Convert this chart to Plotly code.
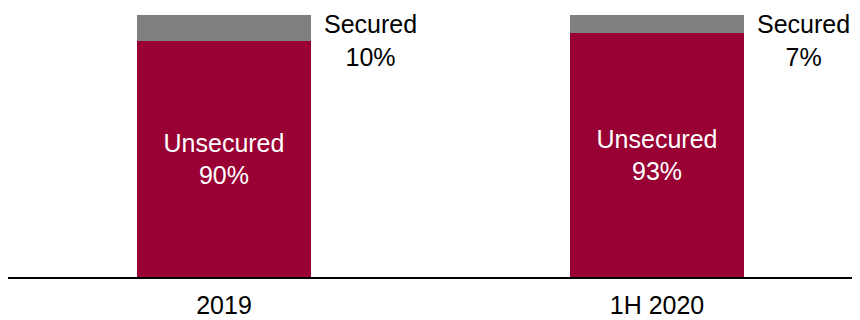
import plotly.graph_objects as go

categories = ["2019", "1H 2020"]
unsecured = [90, 93]
secured = [10, 7]

RED = "#990033"
GRAY = "#808080"
FONT = "Liberation Sans, Arial, sans-serif"

xpos = list(range(len(categories)))

fig = go.Figure()
fig.add_trace(go.Bar(
    x=xpos, y=unsecured, width=0.4,
    marker=dict(color=RED, line=dict(width=0)),
    text=[f"Unsecured<br>{v}%" for v in unsecured],
    textposition="inside", insidetextanchor="middle",
    insidetextfont=dict(color="white", size=25, family=FONT),
    textangle=0, hoverinfo="skip",
))
fig.add_trace(go.Bar(
    x=xpos, y=secured, width=0.4,
    marker=dict(color=GRAY, line=dict(width=0)),
    hoverinfo="skip",
))

for i, v in enumerate(secured):
    fig.add_annotation(
        x=xpos[i] + 0.2, y=100, xref="x", yref="y",
        text=f"Secured<br>{v}%", showarrow=False,
        xanchor="center", yanchor="top", align="center",
        xshift=60, yshift=7,
        font=dict(size=25, color="black", family=FONT),
    )

# page body has an 8px margin, so the figure is sized to fit the 860x320 window
fig.update_layout(
    barmode="stack",
    width=852, height=312,
    margin=dict(l=0, r=0, t=7, b=43),
    paper_bgcolor="white", plot_bgcolor="white",
    showlegend=False,
    uniformtext=dict(mode=False),
    font=dict(family=FONT, size=25, color="black"),
)
fig.update_xaxes(
    range=[-0.4988, 1.4688],
    tickvals=xpos, ticktext=categories,
    showline=True, linecolor="black", linewidth=1.5,
    showgrid=False, zeroline=False, ticks="",
    ticklabelstandoff=5,
    tickfont=dict(size=25, color="black", family=FONT),
)
fig.update_yaxes(
    range=[0, 100], visible=False, showgrid=False, zeroline=False,
)

fig.write_html("out.html")
